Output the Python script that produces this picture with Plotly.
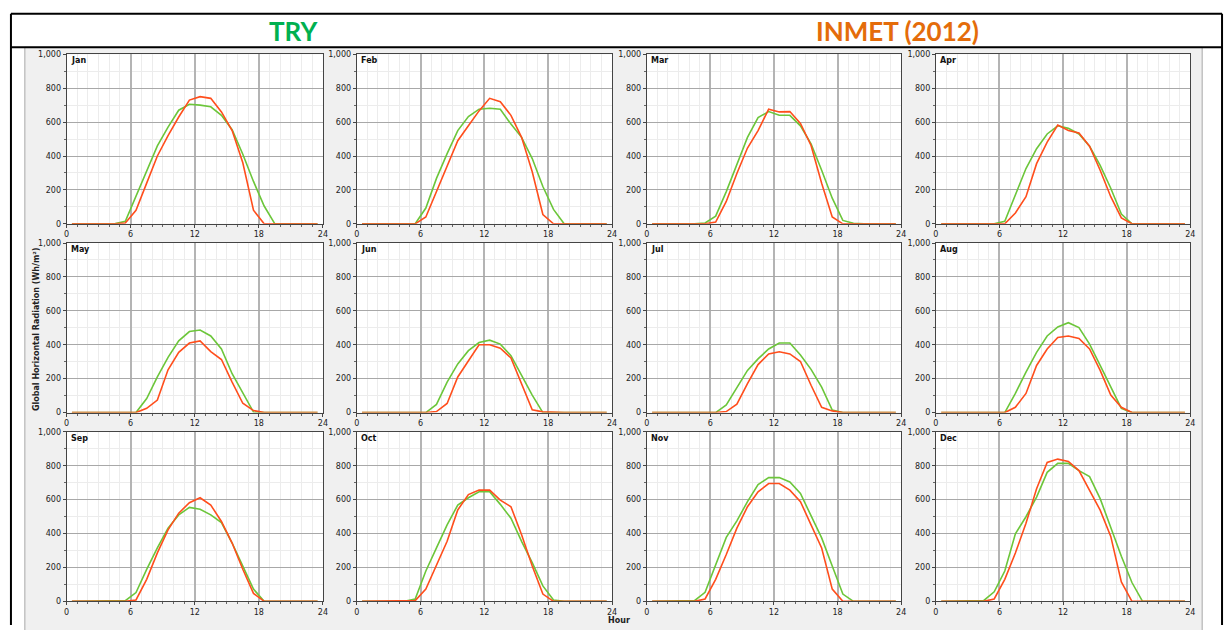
import plotly.graph_objects as go

# Hour-of-day centres (hourly means plotted at the half hour)
hours = [0.5, 1.5, 2.5, 3.5, 4.5, 5.5, 6.5, 7.5, 8.5, 9.5, 10.5, 11.5,
         12.5, 13.5, 14.5, 15.5, 16.5, 17.5, 18.5, 19.5, 20.5, 21.5, 22.5, 23.5]

months = ["Jan", "Feb", "Mar", "Apr", "May", "Jun",
          "Jul", "Aug", "Sep", "Oct", "Nov", "Dec"]

# Global horizontal radiation, Wh/m² — Test Reference Year
try_jan = [0, 0, 0, 0, 0, 15, 165, 320, 460, 570, 670, 705, 700, 690, 640, 555, 410, 250, 105, 0, 0, 0, 0, 0]
try_feb = [0, 0, 0, 0, 0, 0, 93, 268, 414, 550, 633, 676, 682, 676, 588, 510, 385, 220, 85, 0, 0, 0, 0, 0]
try_mar = [0, 0, 0, 0, 0, 5, 45, 190, 355, 510, 627, 662, 640, 640, 578, 472, 316, 151, 20, 3, 0, 0, 0, 0]
try_apr = [0, 0, 0, 0, 0, 0, 15, 170, 326, 443, 530, 578, 563, 530, 458, 345, 210, 58, 0, 0, 0, 0, 0, 0]
try_may = [0, 0, 0, 0, 0, 0, 0, 83, 210, 326, 423, 478, 487, 452, 375, 229, 113, 3, 0, 0, 0, 0, 0, 0]
try_jun = [0, 0, 0, 0, 0, 0, 0, 48, 180, 287, 365, 413, 427, 404, 336, 219, 103, 0, 0, 0, 0, 0, 0, 0]
try_jul = [0, 0, 0, 0, 0, 0, 0, 45, 151, 249, 317, 375, 410, 410, 340, 255, 150, 15, 0, 0, 0, 0, 0, 0]
try_aug = [0, 0, 0, 0, 0, 0, 0, 113, 239, 355, 452, 505, 530, 501, 404, 278, 151, 25, 0, 0, 0, 0, 0, 0]
try_sep = [0, 0, 0, 0, 0, 4, 52, 189, 315, 432, 510, 554, 543, 510, 465, 344, 208, 72, 0, 0, 0, 0, 0, 0]
try_oct = [0, 0, 0, 0, 0, 14, 179, 315, 451, 568, 611, 646, 646, 572, 490, 354, 228, 91, 8, 0, 0, 0, 0, 0]
try_nov = [0, 0, 0, 0, 4, 53, 218, 377, 475, 588, 689, 730, 730, 704, 636, 500, 374, 208, 43, 0, 0, 0, 0, 0]
try_dec = [0, 0, 0, 0, 4, 56, 179, 398, 499, 615, 761, 814, 814, 771, 736, 606, 431, 266, 111, 0, 0, 0, 0, 0]

# Global horizontal radiation, Wh/m² — INMET station, 2012
inmet_jan = [0, 0, 0, 0, 0, 5, 80, 240, 400, 520, 630, 730, 750, 740, 660, 550, 360, 80, 0, 0, 0, 0, 0, 0]
inmet_feb = [0, 0, 0, 0, 0, 0, 40, 190, 345, 490, 578, 666, 740, 720, 640, 510, 307, 55, 0, 0, 0, 0, 0, 0]
inmet_mar = [0, 0, 0, 0, 0, 0, 10, 132, 297, 447, 550, 676, 660, 662, 592, 462, 239, 40, 0, 0, 0, 0, 0, 0]
inmet_apr = [0, 0, 0, 0, 0, 0, 0, 64, 160, 355, 482, 583, 550, 536, 458, 316, 160, 35, 0, 0, 0, 0, 0, 0]
inmet_may = [0, 0, 0, 0, 0, 0, 0, 25, 74, 252, 355, 410, 423, 360, 313, 180, 55, 12, 0, 0, 0, 0, 0, 0]
inmet_jun = [0, 0, 0, 0, 0, 0, 0, 6, 54, 210, 307, 400, 400, 380, 322, 171, 16, 4, 0, 0, 0, 0, 0, 0]
inmet_jul = [0, 0, 0, 0, 0, 0, 0, 6, 50, 171, 283, 346, 359, 346, 301, 161, 31, 10, 0, 0, 0, 0, 0, 0]
inmet_aug = [0, 0, 0, 0, 0, 0, 0, 31, 113, 278, 375, 443, 452, 437, 375, 249, 103, 31, 0, 0, 0, 0, 0, 0]
inmet_sep = [0, 0, 0, 0, 0, 0, 8, 130, 286, 422, 520, 582, 611, 568, 471, 344, 189, 47, 0, 0, 0, 0, 0, 0]
inmet_oct = [0, 0, 0, 0, 0, 4, 72, 208, 354, 539, 630, 656, 656, 597, 558, 393, 208, 43, 0, 0, 0, 0, 0, 0]
inmet_nov = [0, 0, 0, 0, 0, 14, 130, 276, 432, 558, 646, 695, 695, 656, 588, 451, 315, 72, 0, 0, 0, 0, 0, 0]
inmet_dec = [0, 0, 0, 0, 0, 14, 130, 285, 460, 664, 819, 839, 825, 771, 654, 538, 383, 115, 0, 0, 0, 0, 0, 0]

try_series = [try_jan, try_feb, try_mar, try_apr, try_may, try_jun,
              try_jul, try_aug, try_sep, try_oct, try_nov, try_dec]
inmet_series = [inmet_jan, inmet_feb, inmet_mar, inmet_apr, inmet_may, inmet_jun,
                inmet_jul, inmet_aug, inmet_sep, inmet_oct, inmet_nov, inmet_dec]

W, H = 1232, 630
GREEN_LINE = "#6cc63a"
RED_LINE = "#ff4e1c"
TICK_FONT = dict(family="DejaVu Sans, Verdana, sans-serif", size=8, color="#222222")

# Panel frames in pixels (left, right) per column and (top, bottom) per row
col_px = [(64, 322), (356, 613), (648, 904), (939, 1195)]
row_px = [(51, 223), (242.5, 414.5), (434, 606)]


def px_x(x):
    return x / W


def px_y(y):
    return 1 - y / H


fig = go.Figure()
shapes = []
annotations = []

# Grey canvas behind the panels
shapes.append(dict(type="rect", xref="paper", yref="paper", layer="below",
                   x0=px_x(22), x1=px_x(1207), y0=px_y(660), y1=px_y(44),
                   fillcolor="#f0f0f0", line=dict(color="#a8a8a8", width=1)))

for i, name in enumerate(months):
    r, c = divmod(i, 4)
    n = i + 1
    xa = "xaxis" if n == 1 else f"xaxis{n}"
    ya = "yaxis" if n == 1 else f"yaxis{n}"
    xr = "x" if n == 1 else f"x{n}"
    yr = "y" if n == 1 else f"y{n}"
    (l, rgt), (t, b) = col_px[c], row_px[r]

    shapes.append(dict(type="rect", xref="paper", yref="paper", layer="below",
                       x0=px_x(l), x1=px_x(rgt), y0=px_y(b), y1=px_y(t),
                       fillcolor="white", line=dict(width=0)))

    fig.add_trace(go.Scatter(x=hours, y=try_series[i], mode="lines", name="TRY",
                             line=dict(color=GREEN_LINE, width=1.6),
                             xaxis=xr, yaxis=yr, showlegend=False))
    fig.add_trace(go.Scatter(x=hours, y=inmet_series[i], mode="lines", name="INMET (2012)",
                             line=dict(color=RED_LINE, width=1.6),
                             xaxis=xr, yaxis=yr, showlegend=False))

    fig.layout[xa] = dict(
        domain=[px_x(l), px_x(rgt)], anchor=yr, range=[0, 24],
        tickvals=[0, 6, 12, 18, 24], ticks="outside", ticklen=3, tickcolor="#444444",
        showline=True, linecolor="#444444", linewidth=1, mirror=True,
        showgrid=True, gridcolor="#b4b4b4", gridwidth=1.5, zeroline=False,
        tickfont=TICK_FONT, fixedrange=True,
        minor=dict(dtick=1, tick0=0, showgrid=True, gridcolor="#ececec", gridwidth=1,
                   ticks="outside", ticklen=2, tickcolor="#666666"),
    )
    fig.layout[ya] = dict(
        domain=[px_y(b), px_y(t)], anchor=xr, range=[0, 1000],
        tickvals=[0, 200, 400, 600, 800, 1000], tickformat=",d",
        ticks="outside", ticklen=3, tickcolor="#444444",
        showline=True, linecolor="#444444", linewidth=1, mirror=True,
        showgrid=True, gridcolor="#a8a8a8", gridwidth=1, zeroline=False,
        tickfont=TICK_FONT, fixedrange=True,
        minor=dict(dtick=100, tick0=0, showgrid=True, gridcolor="#ececec", gridwidth=1,
                   ticks="outside", ticklen=2, tickcolor="#666666"),
    )

    annotations.append(dict(text=f"<b>{name}</b>", xref=f"{xr} domain", yref=f"{yr} domain",
                            x=0.008, y=1.0, xanchor="left", yanchor="top", showarrow=False,
                            font=dict(family="DejaVu Sans, Verdana, sans-serif", size=8,
                                      color="#111111")))

# Header band and outer frame lines
for x0, y0, x1, y1 in [(8, 10, 1227, 10), (8, 44, 1227, 44),
                       (8, 10, 8, 630), (1227, 10, 1227, 630)]:
    shapes.append(dict(type="line", xref="paper", yref="paper", layer="above",
                       x0=px_x(x0), y0=px_y(y0), x1=px_x(x1), y1=px_y(y1),
                       line=dict(color="black", width=2)))

annotations += [
    dict(text="<b>TRY</b>", xref="paper", yref="paper", x=px_x(292), y=px_y(27),
         xanchor="center", yanchor="middle", showarrow=False,
         font=dict(family="Lato, Open Sans, sans-serif", size=26, color="#00b050")),
    dict(text="<b>INMET (2012)</b>", xref="paper", yref="paper", x=px_x(900), y=px_y(27),
         xanchor="center", yanchor="middle", showarrow=False,
         font=dict(family="Lato, Open Sans, sans-serif", size=26, color="#e46c0a")),
    dict(text="<b>Global Horizontal Radiation (Wh/m²)</b>", xref="paper", yref="paper",
         x=px_x(33), y=px_y(330), xanchor="center", yanchor="middle", textangle=-90,
         showarrow=False, font=dict(family="DejaVu Sans, Verdana, sans-serif", size=8,
                                    color="#222222")),
    dict(text="<b>Hour</b>", xref="paper", yref="paper", x=px_x(620), y=px_y(625),
         xanchor="center", yanchor="middle", showarrow=False,
         font=dict(family="DejaVu Sans, Verdana, sans-serif", size=8, color="#222222")),
]

fig.update_layout(
    width=W, height=H, margin=dict(l=0, r=0, t=0, b=0),
    paper_bgcolor="white", plot_bgcolor="rgba(0,0,0,0)",
    shapes=shapes, annotations=annotations, showlegend=False,
)

fig.write_html("out.html")
